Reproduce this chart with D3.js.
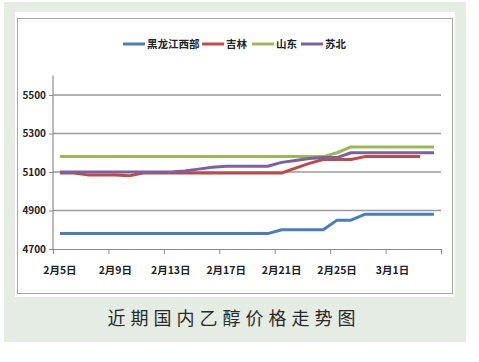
<!DOCTYPE html>
<html><head><meta charset="utf-8">
<script src="https://cdn.jsdelivr.net/npm/d3@7/dist/d3.min.js"></script>
<style>
body{margin:0;padding:0;background:#fff;}
svg{display:block;}
text{font-family:"Noto Sans CJK SC","Noto Sans",sans-serif;}
</style></head>
<body>
<script>
// ---- data ----
const categories = [
 "2月5日","2月6日","2月7日","2月8日","2月9日","2月10日","2月11日","2月12日",
 "2月13日","2月14日","2月15日","2月16日","2月17日","2月18日","2月19日","2月20日",
 "2月21日","2月22日","2月23日","2月24日","2月25日","2月26日","2月27日","2月28日",
 "3月1日","3月2日","3月3日","3月4日"];
const tickLabels = ["2月5日","2月9日","2月13日","2月17日","2月21日","2月25日","3月1日"];
const yTicks = [4700,4900,5100,5300,5500];
const heilongjiang = [4780,4780,4780,4780,4780,4780,4780,4780,4780,4780,4780,4780,4780,4780,4780,4780,
                      4800,4800,4800,4800,4850,4850,4880,4880,4880,4880,4880,4880];
const jilin = [5095,5095,5085,5085,5085,5080,5095,5095,5095,5095,5095,5095,5095,5095,5095,5095,
               5095,5120,5145,5165,5165,5165,5180,5180,5180,5180,5180];
const shandong = [5180,5180,5180,5180,5180,5180,5180,5180,5180,5180,5180,5180,5180,5180,5180,5180,
                  5180,5180,5180,5180,5200,5230,5230,5230,5230,5230,5230,5230];
const subei = [5100,5100,5100,5100,5100,5100,5100,5100,5100,5105,5115,5125,5130,5130,5130,5130,
               5150,5160,5170,5175,5175,5200,5200,5200,5200,5200,5200,5200];
const seriesNames = ["黑龙江西部","吉林","山东","苏北"];
const seriesColors = ["#4a7ebb","#be4b48","#98b954","#7d60a0"];
const seriesData = [heilongjiang, jilin, shandong, subei];
const title = "近期国内乙醇价格走势图";

// ---- drawing ----
const W = 479, H = 362;
const svg = d3.select("body").append("svg").attr("width", W).attr("height", H);

// background
svg.append("rect").attr("x",4).attr("y",2).attr("width",462).attr("height",340).attr("fill","#e4ece3");
svg.append("rect").attr("x",15).attr("y",12).attr("width",440).attr("height",285).attr("fill","#fff");
svg.append("rect").attr("x",17.5).attr("y",18.5).attr("width",435).attr("height",275)
  .attr("fill","none").attr("stroke","#a6a6a6").attr("stroke-width",1);

const x0 = 53, x1 = 441;
const xBand = d3.scaleBand().domain(categories).range([x0, x1]).padding(0);
const xIdx = d3.scaleLinear().domain([0, categories.length]).range([x0, x1]);
const y = d3.scaleLinear().domain([4700, 5600]).range([249, 75.75]);
const cx = c => xBand(c) + xBand.bandwidth()/2;

// gridlines
svg.append("g").selectAll("line").data(yTicks.slice(1)).join("line")
  .attr("x1", x0).attr("x2", x1)
  .attr("y1", d => y(d)).attr("y2", d => y(d))
  .attr("stroke","#9a9a9a").attr("stroke-width",1.3);

// y axis
const yAxis = svg.append("g").attr("transform",`translate(${x0},0)`)
  .call(d3.axisLeft(y).tickValues(yTicks).tickSize(4).tickPadding(3).tickFormat(d3.format("d")));
yAxis.select(".domain").attr("stroke","#8c8c8c").attr("stroke-width",1.2).attr("d",`M-0,${y(5600)}V${y(4700)}`);
yAxis.selectAll(".tick line").attr("stroke","#8c8c8c");
yAxis.selectAll("text").attr("font-size",10).attr("fill","#222").attr("font-weight","bold")
  .style("font-family","'Liberation Sans Narrow','Noto Sans CJK SC',sans-serif");

// x axis
const xAxis = svg.append("g").attr("transform",`translate(0,${y(4700)})`)
  .call(d3.axisBottom(xIdx).tickValues(d3.range(0, categories.length+1, 4)).tickSize(5).tickFormat(""));
xAxis.select(".domain").attr("stroke","#8c8c8c").attr("stroke-width",1.2);
xAxis.selectAll(".tick line").attr("stroke","#8c8c8c");
svg.append("g").selectAll("text").data(tickLabels).join("text")
  .attr("x", d => cx(d)).attr("y", 274)
  .attr("text-anchor","middle").attr("font-size",10.5).attr("font-weight",600).attr("fill","#222")
  .text(d => d);

// lines
const line = d3.line().x((d,i) => cx(categories[i])).y(d => y(d));
svg.append("g").selectAll("path").data(seriesData).join("path")
  .attr("d", d => line(d)).attr("fill","none")
  .attr("stroke",(d,i) => seriesColors[i]).attr("stroke-width",3)
  .attr("stroke-linejoin","round");

// legend
const legendX = [123, 202, 252, 301];
const lg = svg.append("g").selectAll("g").data(seriesNames).join("g")
  .attr("transform",(d,i) => `translate(${legendX[i]},44)`);
lg.append("line").attr("x1",0).attr("x2",22).attr("y1",0).attr("y2",0)
  .attr("stroke",(d,i) => seriesColors[i]).attr("stroke-width",3);
lg.append("text").attr("x",24).attr("y",4).attr("font-size",10.5).attr("font-weight",600)
  .attr("fill","#222").text(d => d);

// title
svg.append("text").attr("x",234).attr("y",325).attr("text-anchor","middle")
  .attr("font-size",18).attr("letter-spacing",5).attr("fill","#2a2a2a").text(title);
</script>
</body></html>
